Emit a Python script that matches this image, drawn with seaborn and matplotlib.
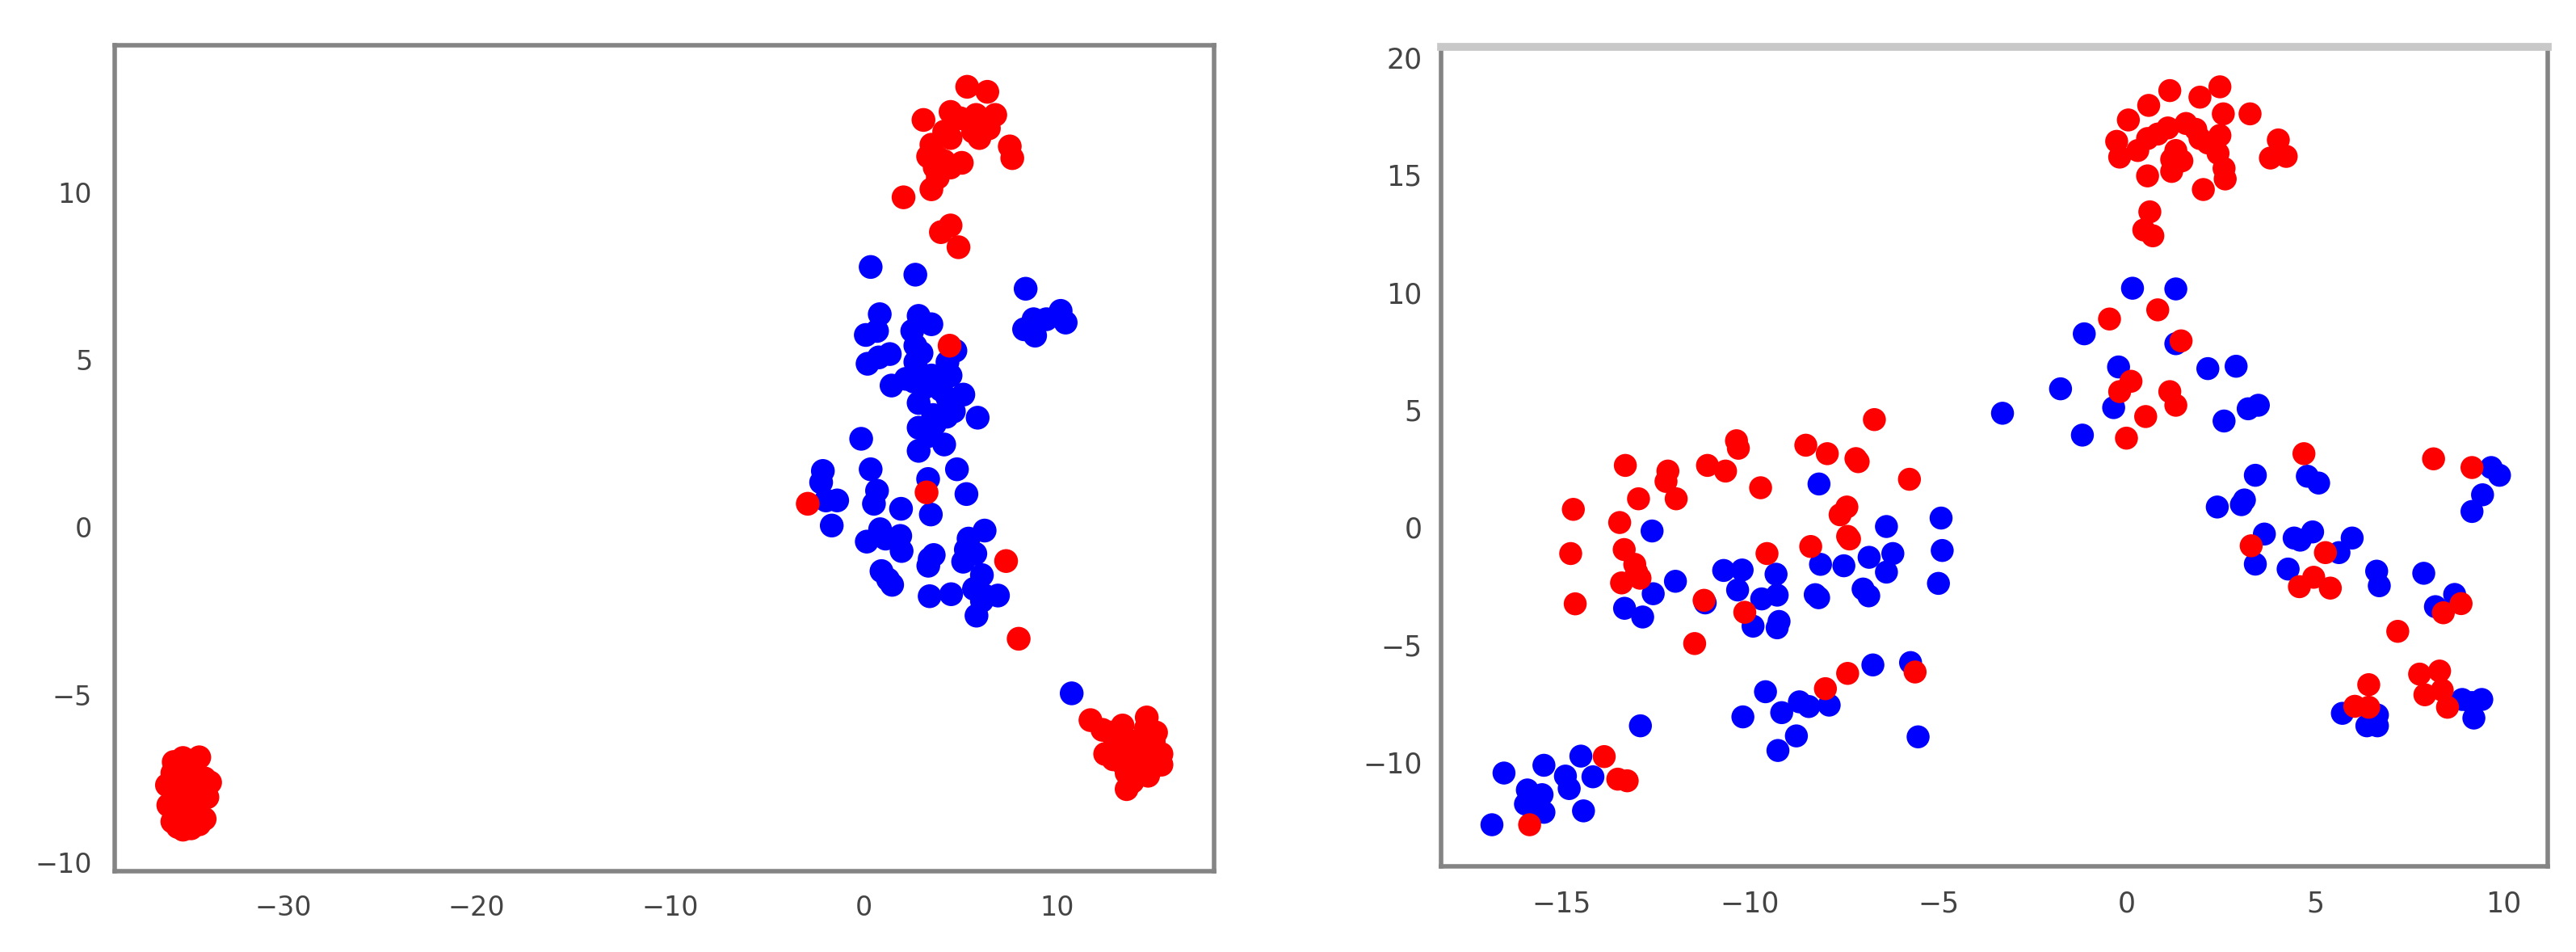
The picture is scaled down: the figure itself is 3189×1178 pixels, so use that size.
"""Two t-SNE style scatter panels with blue and red clusters."""

import matplotlib
matplotlib.use("Agg")
import matplotlib.pyplot as plt
import pandas as pd
import seaborn as sns

LEFT_BLUE_X = [0.37, 2.68, 8.38, 0.84, 2.85, 3.51, 0.12, 0.70, 2.52, 10.19, 10.45, 8.79, 8.30, 8.87, 9.45,
               2.68, 2.68, 1.36, 0.79, 0.21, 4.75, 4.34, 4.50, 2.85, 3.51, 2.19, 1.45, 5.16, 4.34, 2.85,
               4.67, 5.90, 2.85, 3.68, 3.34, 4.17, 2.85, -0.12, 4.83, 0.37, 3.34, 5.32, -2.10, -2.19, 0.70,
               -1.36, -1.94, 0.54, 1.94, 3.48, -1.64, 0.17, 0.86, 1.90, 1.97, 1.14, 3.42, 3.63, 3.35, 0.93,
               1.48, 1.27, 3.42, 4.53, 6.26, 5.43, 5.29, 5.78, 5.15, 6.12, 5.71, 6.26, 6.95, 6.12, 5.84, 10.76,
               3.10, 3.60, 2.60, 3.00, 4.30, 4.00]
LEFT_BLUE_Y = [7.77, 7.54, 7.12, 6.36, 6.31, 6.06, 5.74, 5.86, 5.86, 6.46, 6.11, 6.21, 5.91, 5.72, 6.21,
               5.42, 4.93, 5.17, 5.07, 4.88, 5.27, 4.93, 4.53, 4.63, 4.53, 4.43, 4.23, 3.96, 3.86, 3.71,
               3.46, 3.27, 2.97, 3.07, 2.72, 2.47, 2.28, 2.64, 1.73, 1.73, 1.44, 0.99, 1.68, 1.34, 1.09,
               0.80, 0.80, 0.70, 0.55, 0.38, 0.05, -0.43, -0.06, -0.26, -0.71, -0.34, -0.95, -0.83, -1.15, -1.31,
               -1.72, -1.56, -2.06, -2.00, -0.10, -0.34, -0.67, -0.79, -1.03, -1.43, -1.84, -2.04, -2.04, -2.20, -2.64, -4.96,
               4.15, 3.35, 4.35, 5.20, 3.30, 4.10]

LEFT_RED_X = [5.36, 6.40, 3.10, 4.50, 6.81, 5.82, 6.48, 5.99, 5.00, 4.17, 4.50, 3.51, 3.34, 4.17, 5.08,
              4.50, 3.84, 3.51, 7.56, 7.69, 2.07, 4.50, 4.00, 4.91, 4.45, 3.26, -2.88, 5.66, 3.68, 3.84,
              7.37, 8.02, 11.73, 12.35, 13.39, 14.64, 15.12, 12.77, 12.49, 13.46, 14.43, 15.40, 15.40, 14.71,
              13.60, 13.60, 14.15, 13.46, 12.91, 14.85, 14.29, 14.20, 14.90, 14.00, 13.00, 13.90, 15.00, 14.60, 13.90,
              -34.33, -35.17, -35.65, -34.89, -35.72, -36.00, -35.37, -34.61, -33.77, -34.05, -35.93, -34.89,
              -35.58, -34.33, -33.91, -35.03, -35.58, -34.47, -34.05, -35.72, -34.89, -35.17, -34.75, -35.44, -34.33,
              -35.00, -35.10, -34.60, -35.30]
LEFT_RED_Y = [13.15, 13.00, 12.16, 12.40, 12.31, 12.31, 11.91, 11.62, 12.21, 11.81, 11.62, 11.42, 11.07, 10.93, 10.88,
              10.74, 10.44, 10.09, 11.37, 11.02, 9.85, 9.01, 8.81, 8.36, 5.42, 1.04, 0.70, 11.81, 10.74, 11.03,
              -1.01, -3.33, -5.76, -6.05, -5.92, -5.68, -6.13, -6.13, -6.77, -6.77, -6.37, -6.77, -7.09, -7.42,
              -7.82, -7.34, -6.93, -7.09, -6.93, -6.77, -6.61, -7.30, -7.20, -6.40, -6.50, -7.60, -6.40, -6.00, -6.80,
              -6.87, -6.89, -7.01, -7.01, -7.34, -7.70, -7.42, -7.34, -7.62, -7.50, -8.30, -7.74,
              -7.90, -7.90, -8.06, -8.14, -8.38, -8.38, -8.71, -8.79, -8.63, -9.03, -8.99, -8.95, -8.87,
              -7.60, -8.40, -8.00, -7.70]

RIGHT_BLUE_X = [-8.17, -4.93, -6.38, -12.60, -4.90, -6.21, -6.84, -8.13, -7.51, -6.38, -5.00, -10.70, -10.21, -9.31,
                -11.98, -10.33, -9.28, -9.69, -12.57, -8.27, -8.18, -7.00, -6.85, -13.33, -12.85, -11.19, -9.92,
                -9.23, -9.28, -6.74, -5.74, -9.59, -8.69, -9.16, -8.44, -7.90, -10.19, -8.77, -9.26, -5.54, -12.91,
                -14.49, -15.47, -16.53, -14.90, -14.80, -14.17, -15.91, -15.52, -15.96, -15.67, -15.47, -14.42,
                -16.85, -15.77, -3.30,
                3.41, 4.79, 5.09, 9.67, 9.89, 9.44, 9.16, 3.12, 3.04, 2.40, 3.65, 4.44, 4.60, 4.93, 5.98, 5.63,
                3.41, 4.28, 6.63, 6.70, 7.88, 8.70, 8.19, 5.72, 6.37, 6.65, 6.65, 8.90, 9.42, 9.21, 9.16,
                0.15, 1.30, -1.13, 1.30, -0.22, 2.15, 2.90, -1.76, -0.35, -1.18, 2.58, 3.22, 3.49]
RIGHT_BLUE_Y = [1.84, 0.39, 0.03, -0.16, -0.99, -1.12, -1.28, -1.58, -1.64, -1.91, -2.39, -1.84, -1.82, -2.00,
                -2.30, -2.67, -2.89, -3.05, -2.83, -2.87, -3.00, -2.63, -2.92, -3.45, -3.82, -3.22, -4.21,
                -4.01, -4.28, -5.86, -5.76, -7.00, -7.43, -7.89, -7.63, -7.57, -8.07, -8.88, -9.50, -8.92, -8.45,
                -9.74, -10.13, -10.46, -10.59, -11.12, -10.62, -11.18, -11.38, -11.78, -11.84, -12.13, -12.07,
                -12.66, -11.58, 4.85,
                2.21, 2.17, 1.88, 2.54, 2.21, 1.38, 0.67, 1.16, 0.96, 0.86, -0.29, -0.46, -0.55, -0.20, -0.46, -1.08,
                -1.57, -1.78, -1.87, -2.49, -1.96, -2.86, -3.38, -7.92, -8.45, -8.45, -7.99, -7.33, -7.33, -8.12, -7.46,
                10.17, 10.14, 8.23, 7.81, 6.82, 6.75, 6.85, 5.89, 5.09, 3.92, 4.52, 5.04, 5.19]

RIGHT_RED_X = [-6.70, -10.36, -10.31, -8.52, -7.95, -7.19, -7.13, -11.13, -10.65, -13.31, -12.18, -12.23, -11.96,
               -12.96, -14.69, -9.72, -5.77, -7.43, -7.61, -7.41, -7.36, -13.46, -14.76, -13.34, -9.55, -8.39,
               -13.06, -13.01, -12.92, -13.41, -14.64, -11.22, -10.14, -11.47, -8.00, -7.41, -5.62, -13.87,
               -13.51, -13.26, -15.85,
               4.70, 8.14, 9.16, 3.30, 5.27, 4.58, 4.96, 5.40, 8.87, 8.40, 7.19, 7.77, 8.30, 7.91, 8.37, 8.51,
               6.42, 6.05, 6.42,
               1.14, 2.47, 1.94, 0.58, 0.04, 2.56, 3.27, -0.27, -0.19, 0.55, 0.29, 1.09, 1.57, 1.94, 2.47, 2.42,
               1.30, 1.19, 1.46, 1.19, 0.55, 2.58, 2.61, 2.03, 4.02, 3.81, 4.23, 0.61, 0.45, 0.69, -0.46, 0.82,
               1.44, 0.11, -0.19, 1.14, 1.30, 0.50, -0.01, 0.82, 1.83, 2.15]
RIGHT_RED_Y = [4.58, 3.68, 3.36, 3.49, 3.13, 2.92, 2.79, 2.63, 2.39, 2.63, 2.39, 1.95, 1.21,
               1.21, 0.76, 1.68, 2.04, 0.86, 0.53, -0.39, -0.50, 0.20, -1.12, -0.95, -1.12, -0.82,
               -1.58, -1.91, -2.17, -2.37, -3.26, -3.11, -3.62, -4.95, -6.87, -6.22, -6.16, -9.76,
               -10.72, -10.79, -12.66,
               3.13, 2.91, 2.54, -0.79, -1.08, -2.53, -2.13, -2.59, -3.25, -3.64, -4.43, -6.25, -6.12, -7.13, -6.93, -7.66,
               -6.70, -7.62, -7.66,
               18.58, 18.74, 18.30, 17.95, 17.33, 17.59, 17.59, 16.42, 15.75, 16.54, 16.03, 16.99, 17.18, 16.54, 16.67, 15.91,
               16.03, 15.14, 15.59, 15.65, 14.95, 15.27, 14.82, 14.37, 16.48, 15.71, 15.78, 13.42, 12.65, 12.40, 8.86, 9.25,
               7.93, 6.21, 5.77, 5.77, 5.19, 4.71, 3.79, 16.73, 16.93, 16.35]

LEFT_XTICKS = [-30, -20, -10, 0, 10]
LEFT_YTICKS = [-10, -5, 0, 5, 10]
RIGHT_XTICKS = [-15, -10, -5, 0, 5, 10]
RIGHT_YTICKS = [-10, -5, 0, 5, 10, 15, 20]


def panel_frame(blue_x, blue_y, red_x, red_y):
    # blue first so the red points land on top
    blue = pd.DataFrame({"x": blue_x, "y": blue_y, "group": "blue"})
    red = pd.DataFrame({"x": red_x, "y": red_y, "group": "red"})
    return pd.concat([blue, red], ignore_index=True)


def draw_panel(ax, df, xticks, yticks, xlim, ylim, size, fontsize, ypad):
    sns.scatterplot(
        data=df, x="x", y="y", hue="group", palette={"blue": "#0000ff", "red": "#ff0000"},
        s=size, linewidth=0, legend=False, ax=ax,
    )
    ax.set_xlim(*xlim)
    ax.set_ylim(*ylim)
    ax.set_xticks(xticks)
    ax.set_yticks(yticks)
    ax.set_xlabel("")
    ax.set_ylabel("")
    ax.tick_params(length=9, width=3, color="#777777", labelcolor="#444444", labelsize=fontsize)
    ax.tick_params(axis="x", pad=12)
    ax.tick_params(axis="y", pad=ypad)
    for spine in ax.spines.values():
        spine.set_visible(True)
        spine.set_color("#848484")
        spine.set_linewidth(4)


sns.set_theme(style="white", font="DejaVu Sans")

fig = plt.figure(figsize=(31.89, 11.78), dpi=100)
ax_left = fig.add_axes([142 / 3189, 1 - 1078 / 1178, 1361 / 3189, 1022 / 1178])
ax_right = fig.add_axes([1784 / 3189, 1 - 1072 / 1178, 1370 / 3189, 1014 / 1178])

draw_panel(ax_left, panel_frame(LEFT_BLUE_X, LEFT_BLUE_Y, LEFT_RED_X, LEFT_RED_Y),
           LEFT_XTICKS, LEFT_YTICKS, (-38.7, 18.12), (-10.27, 14.39), 450, 24, 11)
draw_panel(ax_right, panel_frame(RIGHT_BLUE_X, RIGHT_BLUE_Y, RIGHT_RED_X, RIGHT_RED_Y),
           RIGHT_XTICKS, RIGHT_YTICKS, (-18.2, 11.17), (-14.43, 20.44), 420, 25, 8)

# the top edge of the right panel is paler and thicker in the source
ax_right.spines["top"].set_color("#c8c8c8")
ax_right.spines["top"].set_linewidth(7)

fig.savefig("out.png", dpi=100)
plt.close(fig)
